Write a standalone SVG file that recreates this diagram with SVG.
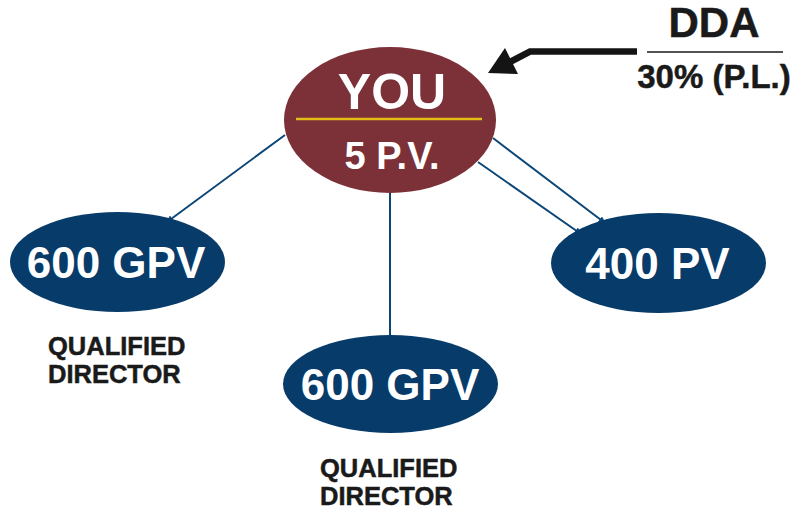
<svg xmlns="http://www.w3.org/2000/svg" width="799" height="512" viewBox="0 0 799 512">
  <style>
    .blue { fill: #073b69; }
    .conn { stroke: #0b4677; stroke-width: 2; fill: none; }
    .w { fill: #ffffff; font-family: "Liberation Sans", Arial, sans-serif; font-weight: bold; text-anchor: middle; }
    .k { fill: #1a1a1a; stroke: #1a1a1a; stroke-width: 0.5; font-family: "Liberation Sans", Arial, sans-serif; font-weight: bold; }
  </style>
  <defs>
    <marker id="ah" viewBox="0 0 10 10" refX="9" refY="5" markerWidth="3.5" markerHeight="3.5" orient="auto" markerUnits="strokeWidth">
      <path d="M0,0 L10,5 L0,10 z" fill="#0b4677"/>
    </marker>
  </defs>
  <rect width="799" height="512" fill="#ffffff"/>

  <g id="connectors">
    <line class="conn" x1="285" y1="135" x2="167" y2="222" marker-end="url(#ah)"/>
    <line class="conn" x1="390" y1="190" x2="390" y2="337"/>
    <line class="conn" x1="493" y1="138" x2="605" y2="223" marker-end="url(#ah)"/>
    <line class="conn" x1="478" y1="162" x2="581" y2="234" marker-end="url(#ah)"/>
    <g id="dda-arrow">
      <polyline points="637,51.5 530,51.5 508,63" fill="none" stroke="#141414" stroke-width="6.5"/>
      <polygon points="488,73 505,48 518,74" fill="#141414"/>
    </g>
  </g>

  <g id="you">
    <ellipse cx="390" cy="120" rx="106" ry="73" fill="#7c3038"/>
    <line x1="296" y1="119" x2="482" y2="119" stroke="#e3bd16" stroke-width="2.5"/>
    <text class="w" x="392" y="109" font-size="50">YOU</text>
    <text class="w" x="392" y="169" font-size="38">5 P.V.</text>
  </g>

  <g id="dda">
    <text class="k" x="714" y="37" font-size="42" text-anchor="middle" stroke-width="1.2">DDA</text>
    <line x1="647" y1="52" x2="783" y2="52" stroke="#1a1a1a" stroke-width="1.6"/>
    <text class="k" x="714" y="88" font-size="33" text-anchor="middle">30% (P.L.)</text>
  </g>

  <g id="left-node">
    <ellipse class="blue" cx="117.5" cy="262" rx="107.5" ry="50"/>
    <text class="w" x="116" y="278" font-size="44">600 GPV</text>
    <text class="k" x="48" y="355" font-size="25.5">QUALIFIED</text>
    <text class="k" x="48" y="383" font-size="25.5">DIRECTOR</text>
  </g>

  <g id="bottom-node">
    <ellipse class="blue" cx="390.5" cy="384" rx="107.5" ry="49"/>
    <text class="w" x="390" y="400" font-size="44">600 GPV</text>
    <text class="k" x="320" y="477" font-size="25.5">QUALIFIED</text>
    <text class="k" x="320" y="505" font-size="25.5">DIRECTOR</text>
  </g>

  <g id="right-node">
    <ellipse class="blue" cx="658.5" cy="263" rx="107.5" ry="50"/>
    <text class="w" x="657.5" y="279" font-size="44">400 PV</text>
  </g>
</svg>
